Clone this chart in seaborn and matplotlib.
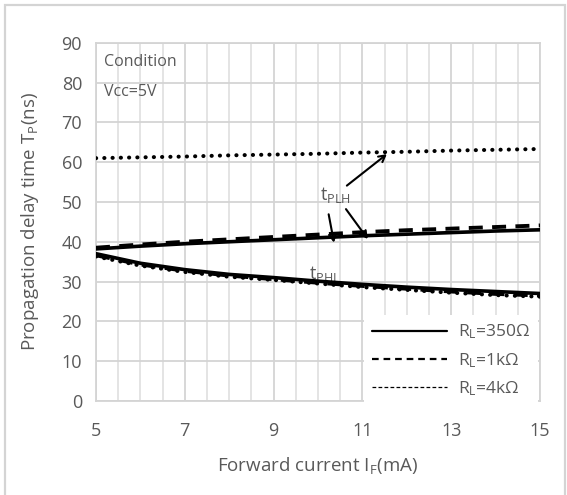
import matplotlib
matplotlib.use("Agg")
import matplotlib.pyplot as plt
from matplotlib.lines import Line2D
from matplotlib.patches import Rectangle
import numpy as np
import pandas as pd
import seaborn as sns

# Forward current (mA)
forward_current = [5, 6, 7, 8, 9, 10, 11, 12, 13, 14, 15]

# tPLH propagation delay (ns) per load resistor
tplh_350 = [38.2, 38.9, 39.5, 40.0, 40.5, 41.0, 41.5, 41.9, 42.3, 42.7, 43.0]
tplh_1k = [38.5, 39.3, 40.0, 40.6, 41.2, 41.8, 42.4, 42.9, 43.3, 43.7, 44.1]
tplh_4k = [61.0, 61.2, 61.4, 61.7, 61.9, 62.1, 62.4, 62.6, 62.9, 63.1, 63.3]

# tPHL propagation delay (ns) per load resistor
tphl_350 = [37.0, 34.6, 33.0, 31.8, 31.0, 30.1, 29.3, 28.6, 28.0, 27.5, 27.0]
tphl_1k = [36.6, 34.3, 32.7, 31.5, 30.6, 29.7, 28.9, 28.2, 27.5, 26.9, 26.5]
tphl_4k = [36.3, 34.0, 32.4, 31.2, 30.4, 29.5, 28.6, 27.9, 27.2, 26.6, 26.2]

x_ticks = [5, 7, 9, 11, 13, 15]
y_ticks = [0, 10, 20, 30, 40, 50, 60, 70, 80, 90]
legend_labels = ["R$_\\mathregular{L}$=350Ω", "R$_\\mathregular{L}$=1kΩ", "R$_\\mathregular{L}$=4kΩ"]

TEXT = "#595959"
GRID = "#d4d4d4"
GRID_MINOR = "#e2e2e2"

sns.set_style("white")
plt.rcParams["font.family"] = ["Open Sans", "DejaVu Sans"]
plt.rcParams["mathtext.default"] = "regular"

fig = plt.figure(figsize=(5.67, 4.95), dpi=100)
ax = fig.add_axes([96 / 567, 1 - 401 / 495, 444 / 567, 358.3 / 495])

# outer chart frame
fig.patches.append(Rectangle((5 / 567, -0.05), 560 / 567, 1.05 - 5 / 495,
                             transform=fig.transFigure, fill=False,
                             edgecolor=GRID, lw=1.6, zorder=0))

# gridlines: half-unit verticals, majors every 2 mA and every 10 ns
for xv in np.arange(5.0, 15.01, 0.5):
    major = (xv - 5) % 2 == 0
    ax.axvline(xv, color=GRID if major else GRID_MINOR, lw=1.3, zorder=0.8)
for yv in y_ticks:
    ax.axhline(yv, color=GRID, lw=1.3, zorder=0.8)

curves = {
    "tplh_350": tplh_350, "tplh_1k": tplh_1k, "tplh_4k": tplh_4k,
    "tphl_350": tphl_350, "tphl_1k": tphl_1k, "tphl_4k": tphl_4k,
}
styles = {
    "350": dict(linestyle="-", lw=2.6),
    "1k": dict(linestyle=(0, (3.6, 2.4)), lw=2.8),
    "4k": dict(linestyle=(0, (0.05, 2.0)), lw=2.9, dash_capstyle="round"),
}
for name, vals in curves.items():
    df = pd.DataFrame({"If": forward_current, "tp": vals})
    st = styles[name.split("_")[1]]
    sns.lineplot(data=df, x="If", y="tp", ax=ax, color="black", zorder=3, **st)

ax.set_xlim(5, 15)
ax.set_ylim(0, 90)
ax.set_xticks(x_ticks)
ax.set_yticks(y_ticks)
for sp in ax.spines.values():
    sp.set_color(GRID)
    sp.set_linewidth(1.3)
ax.tick_params(which="both", length=0, labelsize=13, labelcolor=TEXT)
ax.tick_params(axis="y", pad=10)
ax.tick_params(axis="x", pad=15)

ax.set_xlabel("Forward current I$_\\mathregular{F}$(mA)", fontsize=13.5, color=TEXT, labelpad=11)
ax.set_ylabel("Propagation delay time T$_\\mathregular{P}$(ns)", fontsize=13.5, color=TEXT, labelpad=15)

# condition notes
ax.text(5.18, 85.2, "Condition", fontsize=11.5, color=TEXT, va="center", ha="left")
ax.text(5.18, 77.6, "Vcc=5V", fontsize=11.5, color=TEXT, va="center", ha="left")

# curve labels and arrows
ax.text(10.4, 51.8, "t$_\\mathregular{PLH}$", fontsize=13, color=TEXT, ha="center", va="center", zorder=1)
ax.text(10.15, 32.0, "t$_\\mathregular{PHL}$", fontsize=13, color=TEXT, ha="center", va="center", zorder=1)
arrow = dict(arrowstyle="->,head_length=0.45,head_width=0.25", lw=1.5, color="black",
             shrinkA=0, shrinkB=0)
ax.annotate("", xy=(11.55, 62.0), xytext=(10.65, 54.1), arrowprops=arrow, zorder=4)
ax.annotate("", xy=(10.36, 39.8), xytext=(10.24, 46.9), arrowprops=arrow, zorder=4)
ax.annotate("", xy=(11.12, 40.7), xytext=(10.63, 48.2), arrowprops=arrow, zorder=4)

handles = [
    Line2D([], [], color="black", lw=1.6, linestyle="-"),
    Line2D([], [], color="black", lw=1.6, linestyle=(0, (3, 2.2))),
    Line2D([], [], color="black", lw=0.9, linestyle=(0, (3, 1.8))),
]
leg = ax.legend(handles, legend_labels, loc="lower right", bbox_to_anchor=(1.0, -0.018),
                frameon=True, fancybox=False, framealpha=1, edgecolor="white",
                fontsize=12.5, handlelength=4.3, handletextpad=0.65,
                labelspacing=0.55, borderpad=0.45, borderaxespad=0.1)
leg.get_frame().set_linewidth(0)
for t in leg.get_texts():
    t.set_color(TEXT)
leg.set_zorder(5)

fig.savefig("out.png", dpi=100)
